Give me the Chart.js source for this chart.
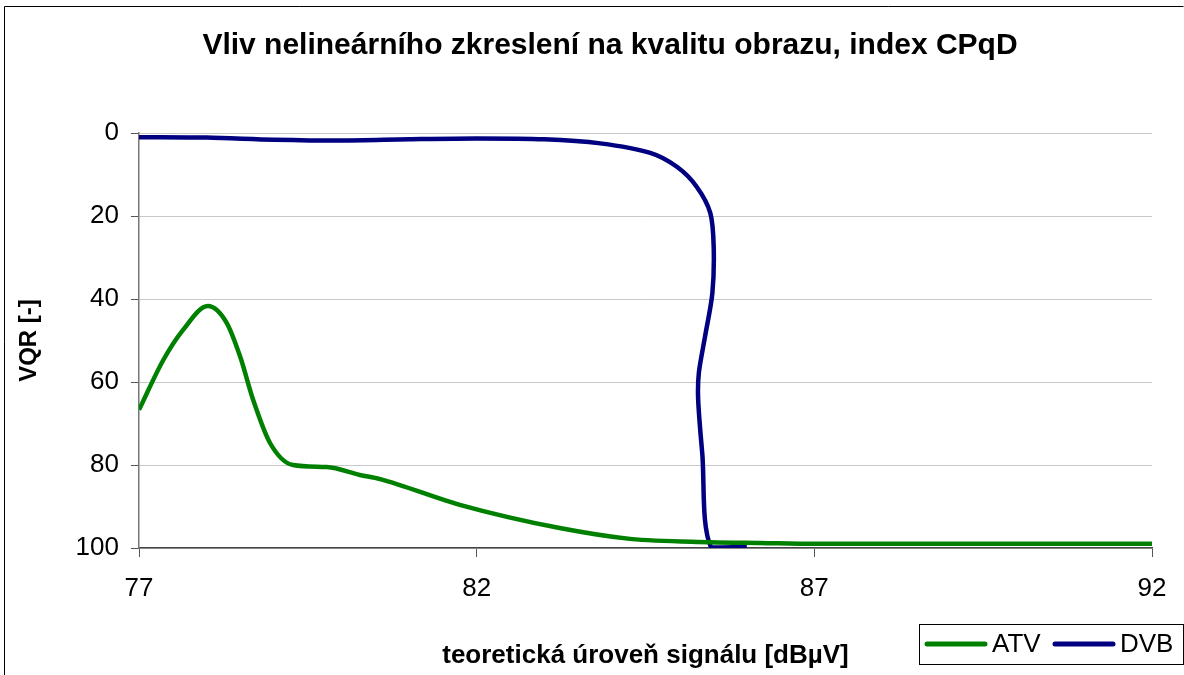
<!DOCTYPE html>
<html>
<head>
<meta charset="utf-8">
<script src="https://cdn.jsdelivr.net/npm/chart.js@4"></script>
<style>
  body { margin: 0; background: #fff; }
</style>
</head>
<body>
<canvas id="graf" width="1184" height="675"></canvas>
<script>
const titulek = "Vliv nelineárního zkreslení na kvalitu obrazu, index CPqD";
const osaX = "teoretická úroveň signálu [dBµV]";
const osaY = "VQR [-]";

// ATV
const atvX = [77, 77.36, 77.65, 78.02, 78.3, 78.5, 78.69, 78.94, 79.28, 79.78, 80.27, 80.57, 81.75, 83.23, 84.27, 85.46, 86.2, 87, 92];
const atvY = [66.7, 54.7, 47.5, 41.7, 45.8, 54, 64.3, 74.7, 80, 80.5, 82.4, 83.4, 89.6, 95.2, 97.8, 98.6, 98.8, 99, 99];

// DVB
const dvbX = [77, 78, 79, 80, 81, 82, 83, 83.83, 84.57, 84.97, 85.26, 85.46, 85.51, 85.49, 85.38, 85.29, 85.28, 85.34, 85.47, 86.0];
const dvbY = [1, 1.1, 1.6, 1.8, 1.5, 1.3, 1.5, 2.5, 4.8, 8.2, 13, 19.3, 27.5, 38.6, 49.2, 57.8, 64.3, 77.1, 99.8, 99.8];

const xTicks = [77, 82, 87, 92];
const yTicks = [0, 20, 40, 60, 80, 100];

const pisma = '"Liberation Sans", Arial, sans-serif';
const body = (xs, ys) => xs.map((x, i) => ({ x: x, y: ys[i] }));

// ramecek, nadpis a legenda kreslime sami
const doplnky = {
  id: 'doplnky',
  afterDraw(chart) {
    const c = chart.ctx;
    c.save();
    c.strokeStyle = '#000';
    c.lineWidth = 1;
    c.beginPath();
    c.moveTo(4.5, 680);
    c.lineTo(4.5, 6.5);
    c.lineTo(1183.5, 6.5);
    c.stroke();

    c.fillStyle = '#000';
    c.font = 'bold 30px ' + pisma;
    c.textAlign = 'center';
    c.textBaseline = 'middle';
    c.fillText(titulek, 610, 46);

    // legenda
    c.fillStyle = '#fff';
    c.fillRect(919.5, 624.5, 264, 40);
    c.strokeStyle = '#000';
    c.strokeRect(919.5, 624.5, 264, 40);
    c.font = '26px ' + pisma;
    c.textAlign = 'left';
    let x = 927;
    chart.data.datasets.forEach(ds => {
      c.strokeStyle = ds.borderColor;
      c.lineWidth = 5;
      c.lineCap = 'round';
      c.beginPath();
      c.moveTo(x, 644);
      c.lineTo(x + 58, 644);
      c.stroke();
      c.fillStyle = '#000';
      c.fillText(ds.label, x + 65, 645);
      x += 128;
    });
    c.restore();
  }
};

new Chart(document.getElementById('graf'), {
  type: 'scatter',
  data: {
    datasets: [
      {
        label: 'ATV',
        data: body(atvX, atvY),
        showLine: true,
        borderColor: '#008000',
        borderWidth: 4.5,
        pointRadius: 0,
        cubicInterpolationMode: 'monotone'
      },
      {
        label: 'DVB',
        data: body(dvbX, dvbY),
        showLine: true,
        borderColor: '#000080',
        borderWidth: 4.5,
        pointRadius: 0,
        tension: 0.3
      }
    ]
  },
  plugins: [doplnky],
  options: {
    responsive: false,
    animation: false,
    devicePixelRatio: 1,
    layout: { padding: { top: 133, right: 32, left: 0, bottom: 0 } },
    plugins: {
      legend: { display: false },
      title: { display: false },
      tooltip: { enabled: false }
    },
    scales: {
      x: {
        type: 'linear',
        min: 77,
        max: 92,
        afterFit: s => { s.height = 127; },
        afterBuildTicks: s => { s.ticks = xTicks.map(v => ({ value: v })); },
        ticks: { color: '#000', font: { family: pisma, size: 26 }, padding: 16, maxRotation: 0 },
        grid: { drawOnChartArea: false, drawTicks: true, tickLength: 9, tickColor: '#555' },
        border: { color: '#444', width: 1.5 },
        title: { display: true, text: osaX, color: '#000', font: { family: pisma, size: 26, weight: 'bold' }, padding: { top: 0, bottom: 4 } }
      },
      y: {
        type: 'linear',
        reverse: true,
        min: 0,
        max: 100,
        afterFit: s => { s.width = 139; },
        afterBuildTicks: s => { s.ticks = yTicks.map(v => ({ value: v })); },
        ticks: { color: '#000', font: { family: pisma, size: 26 }, padding: 12 },
        grid: { color: '#c8c8c8', lineWidth: 1, tickLength: 8, tickColor: '#555' },
        border: { color: '#777', width: 1.5 },
        title: { display: true, text: osaY, color: '#000', font: { family: pisma, size: 24, weight: 'bold' }, padding: { top: 15, bottom: 0 } }
      }
    }
  }
});
</script>
</body>
</html>
